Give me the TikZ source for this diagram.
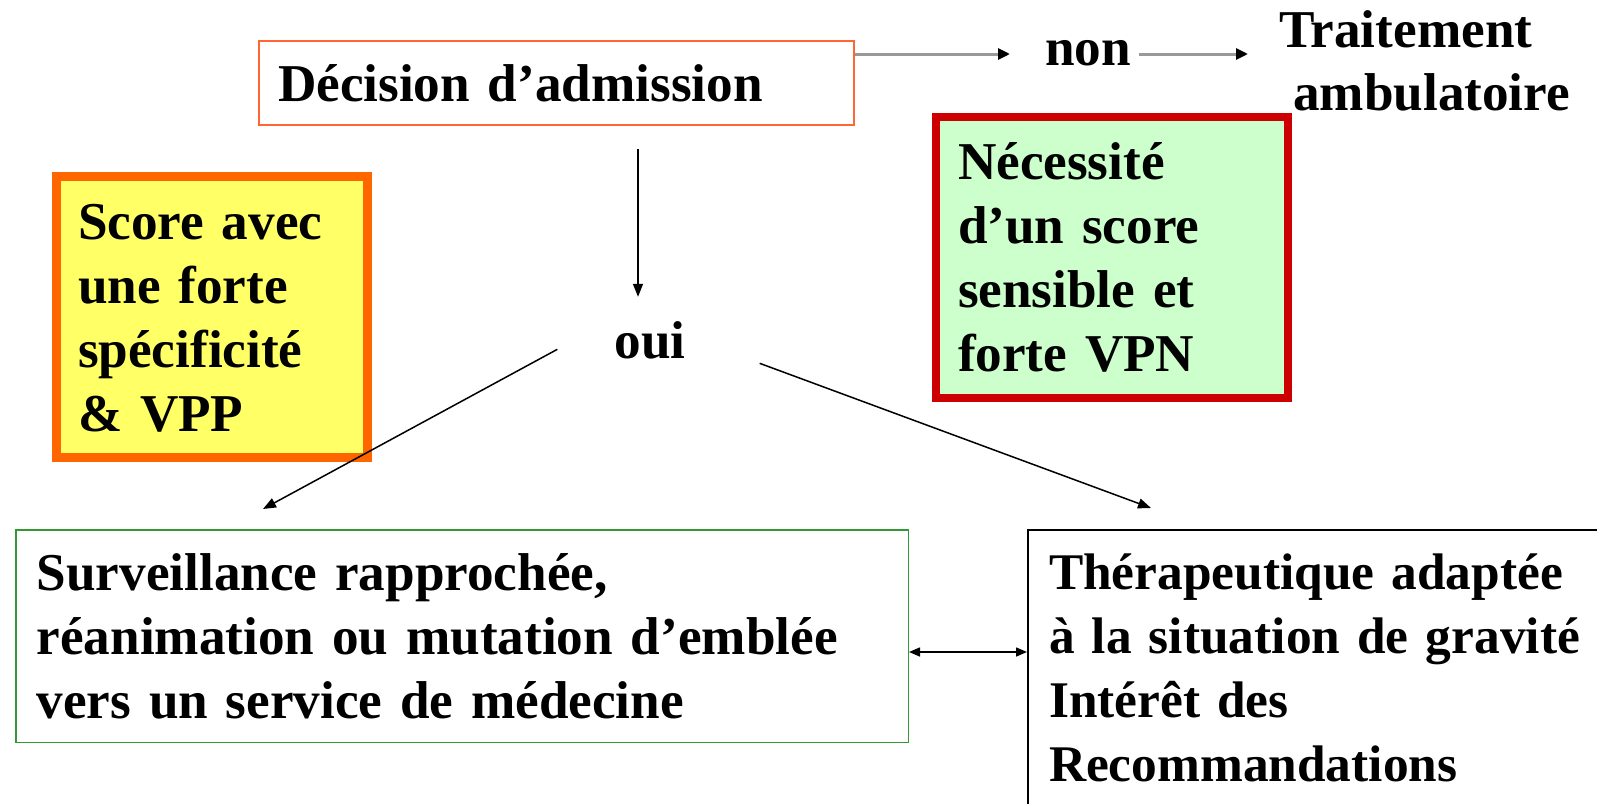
\documentclass[tikz,border=0pt]{standalone}
\usepackage{fontspec}
\setmainfont{Liberation Serif}
\usetikzlibrary{arrows.meta,calc}
\definecolor{decline}{HTML}{FF6633}
\definecolor{scoreline}{HTML}{FF6600}
\definecolor{scorefill}{HTML}{FFFF66}
\definecolor{necline}{HTML}{CC0000}
\definecolor{necfill}{HTML}{CCFFCC}
\definecolor{gbline}{HTML}{339933}
\newcommand{\diagfont}{\fontsize{53.2}{64}\selectfont\bfseries}
\newcommand{\rbfont}{\fontsize{51.4}{64}\selectfont\bfseries}
\newcommand{\traitfont}{\fontsize{53.2}{63}\selectfont\bfseries}
\begin{document}
\begin{tikzpicture}[x=1pt,y=-1pt,
  every node/.style={font=\diagfont},
  box/.style={draw, align=left, text height=37pt, inner ysep=0pt, anchor=center},
  plain/.style={inner sep=0pt},
  grayarr/.style={draw=black!40, line width=3pt, -{Triangle[length=12pt,width=11pt,color=black]}},
  blackarr/.style={draw=black, line width=1.5pt, -{Triangle[length=13pt,width=10pt]}},
  dblarr/.style={draw=black, line width=1.5pt, {Triangle[length=11pt,width=9pt]}-{Triangle[length=11pt,width=9pt]}}
]
\useasboundingbox (0,0) rectangle (1597,803);

\node[box, draw=decline, line width=1.5pt, minimum width=595pt, minimum height=84pt,
      text width=557pt, inner xsep=19pt] (dec) at (556.5,83) {Décision d’admission};

\node[box, draw=scoreline, fill=scorefill, line width=9pt, minimum width=311pt, minimum height=281pt,
      text width=268pt, inner xsep=21.5pt] (score) at (212,317)
      {Score avec\\une forte\\spécificité\\\& VPP};

\node[box, draw=necline, fill=necfill, line width=8.5pt, minimum width=352pt, minimum height=281pt,
      text width=308pt, inner xsep=22pt] (nec) at (1112,257.5)
      {Nécessité\\d’un score\\sensible et\\forte VPN};

\node[box, draw=gbline, line width=1.5pt, minimum width=892.5pt, minimum height=212.5pt,
      text width=850.5pt, inner xsep=20pt] (gb) at (462,636)
      {Surveillance rapprochée,\\réanimation ou mutation d’emblée\\vers un service de médecine};

\node[box, draw=black, line width=2pt, minimum width=640pt, minimum height=275pt,
      text width=598pt, inner xsep=21pt, font=\rbfont] (rb) at (1348,667.5)
      {Thérapeutique adaptée\\à la situation de gravité\\Intérêt des\\Recommandations};

\node[plain, anchor=base, text height=37pt] (oui) at (650,358) {oui};
\node[plain, anchor=base west, text height=22pt, text depth=0pt] (non) at (1045,65) {non};
\node[plain, anchor=north west, text height=37pt, text width=320pt, align=left,
      font=\traitfont] (trait) at (1279,10)
      {Traitement\\\hspace*{14pt}ambulatoire};

\draw[grayarr, shorten >=35pt] (dec.east |- non.west) -- (non.west);
\draw[grayarr, shorten <=8pt, shorten >=31pt] (non.east) -- (non.east -| trait.west);

\draw[blackarr] ($(dec.south -| oui.center)+(-12,23)$) -- ($(oui.north)+(-12,-24)$);
\draw[blackarr] ($(oui.west)+(-57,9.5)$) -- ($(gb.north west)+(248,-20)$);
\draw[blackarr] ($(oui.east)+(74,23.5)$) -- ($(rb.north west)+(124,-21)$);
\draw[dblarr] ([yshift=-16pt]gb.east) -- ([yshift=-16pt]gb.east -| rb.west);
\end{tikzpicture}
\end{document}
